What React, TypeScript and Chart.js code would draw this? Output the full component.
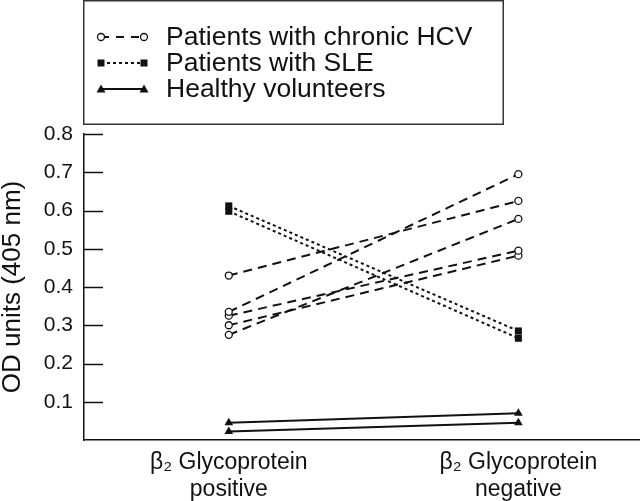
import React, { useEffect, useRef } from 'react';
import { Chart, registerables } from 'chart.js';

Chart.register(...registerables);

// Categories (x) and their label lines
const categoryLabels: string[][] = [
  ['β₂ Glycoprotein', 'positive'],
  ['β₂ Glycoprotein', 'negative'],
];

// Y ticks
const yTickValues = [0.1, 0.2, 0.3, 0.4, 0.5, 0.6, 0.7, 0.8];

// Patients with chronic HCV: each index is one patient (positive -> negative)
const hcvPositive = [0.43, 0.335, 0.275, 0.325, 0.3];
const hcvNegative = [0.625, 0.695, 0.578, 0.495, 0.482];

// Patients with SLE
const slePositive = [0.612, 0.598];
const sleNegative = [0.285, 0.266];

// Healthy volunteers
const healthyPositive = [0.045, 0.022];
const healthyNegative = [0.07, 0.045];

const legendLabels = ['Patients with chronic HCV', 'Patients with SLE', 'Healthy volunteers'];

const FONT = '"Liberation Sans", Arial, Helvetica, sans-serif';
const INK = '#111';

function pair(a: number, b: number) {
  return [
    { x: 0, y: a },
    { x: 1, y: b },
  ];
}

function drawCircle(ctx: CanvasRenderingContext2D, x: number, y: number) {
  ctx.beginPath();
  ctx.arc(x, y, 3.5, 0, Math.PI * 2);
  ctx.fillStyle = '#fff';
  ctx.fill();
  ctx.lineWidth = 1.3;
  ctx.strokeStyle = INK;
  ctx.stroke();
}
function drawSquare(ctx: CanvasRenderingContext2D, x: number, y: number) {
  ctx.fillStyle = INK;
  ctx.fillRect(x - 3.5, y - 3.5, 7, 7);
}
function drawTriangle(ctx: CanvasRenderingContext2D, x: number, y: number) {
  ctx.fillStyle = INK;
  ctx.beginPath();
  ctx.moveTo(x, y - 4.5);
  ctx.lineTo(x + 4.5, y + 3.5);
  ctx.lineTo(x - 4.5, y + 3.5);
  ctx.closePath();
  ctx.fill();
}

const boxLegendPlugin = {
  id: 'boxLegend',
  afterDraw(chart: any) {
    const ctx: CanvasRenderingContext2D = chart.ctx;
    ctx.save();
    ctx.strokeStyle = '#333';
    ctx.lineWidth = 1.5;
    ctx.setLineDash([]);
    ctx.strokeRect(83.75, 0.75, 419.5, 123.5);

    const rows = [37, 63, 89];
    const x1 = 101;
    const x2 = 144;
    // HCV
    ctx.strokeStyle = INK;
    ctx.lineWidth = 2;
    ctx.setLineDash([8, 7]);
    ctx.beginPath();
    ctx.moveTo(x1, rows[0]);
    ctx.lineTo(x2, rows[0]);
    ctx.stroke();
    ctx.setLineDash([]);
    drawCircle(ctx, x1, rows[0]);
    drawCircle(ctx, x2, rows[0]);
    // SLE
    ctx.strokeStyle = INK;
    ctx.lineWidth = 2;
    ctx.setLineDash([3, 3]);
    ctx.beginPath();
    ctx.moveTo(x1, rows[1]);
    ctx.lineTo(x2, rows[1]);
    ctx.stroke();
    ctx.setLineDash([]);
    drawSquare(ctx, x1, rows[1]);
    drawSquare(ctx, x2, rows[1]);
    // Healthy
    ctx.strokeStyle = INK;
    ctx.lineWidth = 2;
    ctx.beginPath();
    ctx.moveTo(x1, rows[2]);
    ctx.lineTo(x2, rows[2]);
    ctx.stroke();
    drawTriangle(ctx, x1, rows[2]);
    drawTriangle(ctx, x2, rows[2]);

    ctx.fillStyle = INK;
    ctx.font = `26.5px ${FONT}`;
    ctx.textAlign = 'left';
    ctx.textBaseline = 'middle';
    legendLabels.forEach((t, i) => ctx.fillText(t, 166, rows[i] + 1));
    ctx.restore();
  },
};

const innerTicksPlugin = {
  id: 'innerTicks',
  afterDraw(chart: any) {
    const ctx: CanvasRenderingContext2D = chart.ctx;
    const y = chart.scales.y;
    const left = chart.chartArea.left;
    ctx.save();
    ctx.strokeStyle = INK;
    ctx.lineWidth = 1.5;
    yTickValues.forEach((v) => {
      const py = Math.round(y.getPixelForValue(v)) + 0.5;
      ctx.beginPath();
      ctx.moveTo(left, py);
      ctx.lineTo(left + 19, py);
      ctx.stroke();
    });
    ctx.restore();
  },
};

export default function App() {
  const canvasRef = useRef<HTMLCanvasElement | null>(null);

  useEffect(() => {
    if (!canvasRef.current) return;
    const datasets: any[] = [];
    hcvPositive.forEach((v, i) => {
      datasets.push({
        label: legendLabels[0],
        data: pair(v, hcvNegative[i]),
        borderColor: INK,
        borderWidth: 2,
        borderDash: [9, 6],
        pointStyle: 'circle',
        pointRadius: 3.5,
        pointBorderWidth: 1.3,
        pointBackgroundColor: '#fff',
        pointBorderColor: INK,
      });
    });
    slePositive.forEach((v, i) => {
      datasets.push({
        label: legendLabels[1],
        data: pair(v, sleNegative[i]),
        borderColor: INK,
        borderWidth: 2,
        borderDash: [3, 3],
        pointStyle: 'rect',
        pointRadius: 5,
        pointBorderWidth: 0,
        pointBackgroundColor: INK,
        pointBorderColor: INK,
      });
    });
    healthyPositive.forEach((v, i) => {
      datasets.push({
        label: legendLabels[2],
        data: pair(v, healthyNegative[i]),
        borderColor: INK,
        borderWidth: 2,
        pointStyle: 'triangle',
        pointRadius: 5,
        pointBorderWidth: 0,
        pointBackgroundColor: INK,
        pointBorderColor: INK,
      });
    });

    const chart = new Chart(canvasRef.current, {
      type: 'line',
      data: { datasets },
      options: {
        responsive: false,
        animation: false,
        layout: { autoPadding: false, padding: { top: 134, right: 0, left: 0, bottom: 0 } },
        plugins: { legend: { display: false }, tooltip: { enabled: false } },
        scales: {
          x: {
            type: 'linear',
            min: -0.5,
            max: 1.42,
            grid: { display: false, drawTicks: false, tickLength: 0 },
            border: { display: true, color: INK, width: 1.5 },
            afterBuildTicks: (s: any) => {
              s.ticks = categoryLabels.map((_, i) => ({ value: i }));
            },
            afterFit: (s: any) => {
              s.height = 61;
              s.paddingLeft = 0;
              s.paddingRight = 0;
            },
            ticks: {
              color: INK,
              padding: 9,
              maxRotation: 0,
              autoSkip: false,
              font: { family: FONT, size: 23, lineHeight: 27 / 23 },
              callback: (v: any) => categoryLabels[Math.round(Number(v))] ?? '',
            },
          },
          y: {
            type: 'linear',
            min: 0,
            max: 0.8,
            grid: { display: false, drawTicks: false, tickLength: 0 },
            border: { display: true, color: INK, width: 1.5 },
            afterBuildTicks: (s: any) => {
              s.ticks = [{ value: 0 }, ...yTickValues.map((v) => ({ value: v }))];
            },
            afterFit: (s: any) => {
              s.width = 84;
              s.paddingTop = 0;
              s.paddingBottom = 0;
            },
            ticks: {
              color: INK,
              padding: 11,
              font: { family: FONT, size: 21 },
              callback: (v: any) => (Number(v) === 0 ? '' : Number(v).toFixed(1)),
            },
            title: {
              display: true,
              text: 'OD units (405 nm)',
              color: INK,
              padding: 0,
              font: { family: FONT, size: 26, lineHeight: 1 },
            },
          },
        },
      },
      plugins: [boxLegendPlugin, innerTicksPlugin],
    });
    return () => chart.destroy();
  }, []);

  return (
    <div style={{ position: 'absolute', left: 0, top: 0, width: 640, height: 501, background: '#fff' }}>
      <canvas ref={canvasRef} width={640} height={501} style={{ display: 'block' }} />
    </div>
  );
}
